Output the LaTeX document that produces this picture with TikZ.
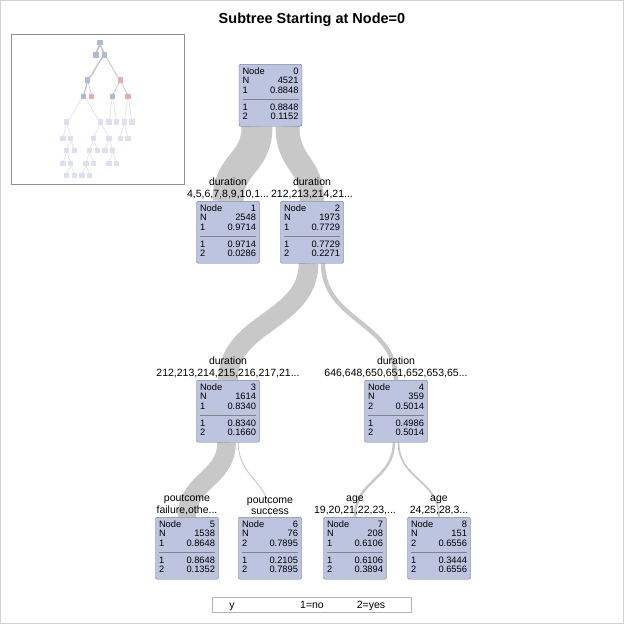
\documentclass[tikz,border=0pt]{standalone}
\usepackage[table]{xcolor}
\usepackage{fontspec}
\setmainfont{Liberation Sans}
\usepackage{tikz}
\usetikzlibrary{positioning,backgrounds,calc}
\definecolor{boxfill}{RGB}{189,196,224}
\definecolor{boxline}{RGB}{100,105,122}
\definecolor{sepgray}{RGB}{130,130,135}
\definecolor{ribbongray}{RGB}{200,200,200}
\definecolor{framegray}{RGB}{210,210,210}
\definecolor{thumbline}{RGB}{140,144,153}
\definecolor{legendline}{RGB}{180,180,180}
\definecolor{miniblue}{RGB}{178,186,217}
\definecolor{minipink}{RGB}{232,172,178}
\definecolor{minifade}{RGB}{221,224,238}
\definecolor{minilink}{RGB}{190,190,190}
\definecolor{minifaint}{RGB}{226,226,226}
\arrayrulecolor{sepgray}
\setlength{\arrayrulewidth}{0.6pt}
\newcommand{\nodestats}[6]{%
  \begin{tabular*}{56pt}{@{}l@{\extracolsep{\fill}}r@{}}
    Node & #1\\ N & #2\\ #3 & #4\\[3pt] \hline
    \rule{0pt}{11pt}1 & #5\\ 2 & #6
  \end{tabular*}}

\begin{document}
\begin{tikzpicture}[x=1pt, y=-1pt,
    statbox/.style={draw=boxline, fill=boxfill, rounded corners=2pt, minimum width=63pt, minimum height=62pt, inner xsep=3.5pt, inner ysep=0pt, anchor=north, font=\fontsize{9.3}{9}\selectfont},
    splitlab/.style={align=center, inner sep=0pt, font=\fontsize{10.5}{11.5}\selectfont},
    ribbon/.style={draw=ribbongray, line cap=butt},
    mini/.style={fill=#1, minimum size=5.5pt, inner sep=0pt},
    legtext/.style={inner sep=0pt, anchor=base, font=\fontsize{10.5}{12}\selectfont}]
    \useasboundingbox (0,0) rectangle (624,624);
    \draw[framegray] (0.5,0.5) rectangle (623.5,623.5);
    \node[font=\bfseries\fontsize{14.5}{16}\selectfont] (title) at (312,20) {Subtree Starting at Node=0};

    % overview of the whole tree
    \node[draw=thumbline, minimum width=173pt, minimum height=150pt, inner sep=0pt, anchor=north west] (thumb) at (11,34) {};
    \foreach \n/\x/\y/\c in {0/100/42.7/miniblue, 1/96/55/miniblue, 2/104.3/55/miniblue,
        3/87.7/80/miniblue, 4/120.3/80/minipink,
        5/83.7/96.3/miniblue, 6/91.7/96.3/minipink, 7/112.3/96.3/miniblue, 8/128/96.3/minipink,
        9/66.7/122/minifade, 10/100.7/122/minifade, 11/109/122/minifade, 12/116.7/122/minifade, 13/124.3/122/minifade, 14/132/122/minifade,
        15/63/138.7/minifade, 16/70.7/138.7/minifade, 17/93.3/138.7/minifade, 18/109/138.7/minifade, 19/120.3/138.7/minifade, 20/128/138.7/minifade,
        21/66.7/150.7/minifade, 22/74.3/150.7/minifade, 23/89.7/150.7/minifade, 24/97.3/150.7/minifade, 25/105/150.7/minifade, 26/112.7/150.7/minifade,
        27/63/163.7/minifade, 28/70.7/163.7/minifade, 29/86/163.7/minifade, 30/93.7/163.7/minifade, 31/109/163.7/minifade, 32/116.7/163.7/minifade,
        33/66.7/175.7/minifade, 34/74.3/175.7/minifade, 35/82/175.7/minifade, 36/89.7/175.7/minifade}
        \node[mini=\c] (t\n) at (\x,\y) {};

    % main subtree
    \node[statbox] (n0) at (270.5,64) {\nodestats{0}{4521}{1}{0.8848}{0.8848}{0.1152}};
    \node[statbox] (n1) at (228,201) {\nodestats{1}{2548}{1}{0.9714}{0.9714}{0.0286}};
    \node[statbox] (n2) at (312,201) {\nodestats{2}{1973}{1}{0.7729}{0.7729}{0.2271}};
    \node[statbox] (n3) at (228,380) {\nodestats{3}{1614}{1}{0.8340}{0.8340}{0.1660}};
    \node[statbox] (n4) at (396,380) {\nodestats{4}{359}{2}{0.5014}{0.4986}{0.5014}};
    \node[statbox] (n5) at (187,517) {\nodestats{5}{1538}{1}{0.8648}{0.8648}{0.1352}};
    \node[statbox] (n6) at (270,517) {\nodestats{6}{76}{2}{0.7895}{0.2105}{0.7895}};
    \node[statbox] (n7) at (355,517) {\nodestats{7}{208}{1}{0.6106}{0.6106}{0.3894}};
    \node[statbox] (n8) at (439,517) {\nodestats{8}{151}{2}{0.6556}{0.3444}{0.6556}};

    \node[splitlab, above=2pt of n1] (l1) {duration\\4,5,6,7,8,9,10,1...};
    \node[splitlab, above=2pt of n2] (l2) {duration\\212,213,214,21...};
    \node[splitlab, above=2pt of n3] (l3) {duration\\212,213,214,215,216,217,21...};
    \node[splitlab, above=2pt of n4] (l4) {duration\\646,648,650,651,652,653,65...};
    \node[splitlab, above=2pt of n5] (l5) {poutcome\\failure,othe...};
    \node[splitlab, above=2pt of n6] (l6) {poutcome\\success};
    \node[splitlab, above=2pt of n7] (l7) {age\\19,20,21,22,23,...};
    \node[splitlab, above=2pt of n8] (l8) {age\\24,25,28,3...};

    \begin{scope}[on background layer]
        \draw[ribbon, line width=31pt] ([xshift=-13.5pt]n0.south) .. controls +(0,38) and +(0,-38) .. (n1.north);
        \draw[ribbon, line width=24pt] ([xshift=17pt]n0.south) .. controls +(0,38) and +(0,-38) .. (n2.north);
        \draw[ribbon, line width=19.6pt] ([xshift=-3.45pt]n2.south) .. controls +(0,58) and +(0,-58) .. (n3.north);
        \draw[ribbon, line width=4.4pt] ([xshift=11.05pt]n2.south) .. controls +(0,58) and +(0,-58) .. (n4.north);
        \draw[ribbon, line width=18.7pt] ([xshift=-1.45pt]n3.south) .. controls +(0,37) and +(0,-37) .. (n5.north);
        \draw[ribbon, line width=0.9pt] ([xshift=10.35pt]n3.south) .. controls +(0,37) and +(0,-37) .. (n6.north);
        \draw[ribbon, line width=2.5pt] ([xshift=-2.15pt]n4.south) .. controls +(0,37) and +(0,-37) .. (n7.north);
        \draw[ribbon, line width=1.8pt] ([xshift=2.5pt]n4.south) .. controls +(0,37) and +(0,-37) .. (n8.north);

        \foreach \a/\b/\w/\c in {0/1/1.6/minilink, 0/2/1.3/minilink, 2/3/1.2/minilink, 2/4/0.7/minilink,
            3/5/1.1/minilink, 3/6/0.5/minilink, 4/7/0.6/minilink, 4/8/0.6/minilink,
            5/9/0.7/minifaint, 5/10/0.7/minifaint, 7/11/0.7/minifaint, 7/12/0.7/minifaint, 8/13/0.7/minifaint, 8/14/0.7/minifaint,
            9/15/0.7/minifaint, 9/16/0.7/minifaint, 10/17/0.7/minifaint, 10/18/0.7/minifaint, 13/19/0.7/minifaint, 13/20/0.7/minifaint,
            16/21/0.7/minifaint, 16/22/0.7/minifaint, 17/23/0.7/minifaint, 17/24/0.7/minifaint, 18/25/0.7/minifaint, 18/26/0.7/minifaint,
            21/27/0.7/minifaint, 21/28/0.7/minifaint, 23/29/0.7/minifaint, 23/30/0.7/minifaint, 26/31/0.7/minifaint, 26/32/0.7/minifaint,
            28/33/0.7/minifaint, 28/34/0.7/minifaint, 29/35/0.7/minifaint, 29/36/0.7/minifaint}
            \draw[line width=\w pt, draw=\c] let \p1=(t\a.south), \p2=(t\b.north), \n1={0.5*(\y1-\y2)} in
                (\p1) .. controls +(0,\n1) and +(0,-\n1) .. (\p2);
    \end{scope}

    % legend
    \node[draw=legendline, minimum width=199pt, minimum height=15pt, inner sep=0pt] (legend) at (311.5,604.5) {};
    \node[legtext] (legy) at (232,608.3) {y};
    \node[legtext] (legno) at (312,608.3) {1=no};
    \node[legtext] (legyes) at (371,608.3) {2=yes};
\end{tikzpicture}
\end{document}
